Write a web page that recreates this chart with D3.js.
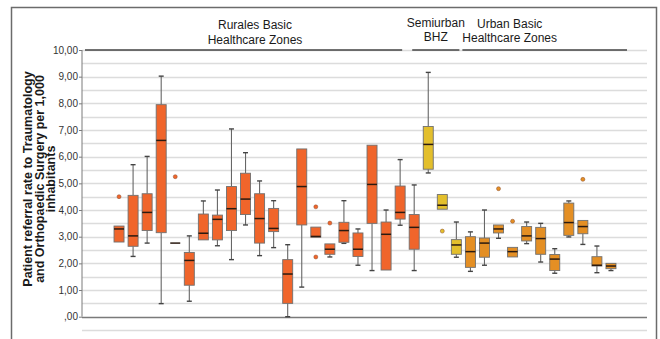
<!DOCTYPE html>
<html><head><meta charset="utf-8">
<script src="https://cdn.jsdelivr.net/npm/d3@7"></script>
<style>
html,body{margin:0;padding:0;background:#fff;}
svg{display:block;}
</style></head>
<body>
<svg id="chart" width="660" height="339"></svg>
<script>
// ---- data ----
const categories = d3.range(1, 37).map(i => "BHZ " + i);
const groups = ["Rural","Rural","Rural","Rural","Rural","Rural","Rural","Rural","Rural","Rural","Rural",
  "Rural","Rural","Rural","Rural","Rural","Rural","Rural","Rural","Rural","Rural","Rural",
  "Semiurban","Semiurban","Semiurban",
  "Urban","Urban","Urban","Urban","Urban","Urban","Urban","Urban","Urban","Urban","Urban"];
const q1 =      [2.80,2.64,3.23,3.15,2.76,1.18,2.88,2.88,3.23,3.83,2.76,3.19,0.50,3.44,2.98,2.34,2.79,2.26,3.50,1.75,3.66,2.53, 5.53,4.03,2.34, 1.85,2.23,3.14,2.24,2.84,2.34,1.73,3.05,3.11,1.90,1.80];
const median =  [3.29,3.03,3.91,6.61,2.76,2.11,3.13,3.65,4.05,4.41,3.68,3.31,1.60,4.88,3.01,2.53,3.23,2.53,4.96,3.09,3.91,3.35, 6.46,4.18,2.69, 2.44,2.76,3.29,2.44,3.03,2.93,2.16,3.53,3.38,1.93,1.90];
const q3 =      [3.40,4.55,4.61,7.95,2.76,2.41,3.85,3.81,4.88,5.38,4.61,4.06,2.14,6.29,3.36,2.73,3.54,3.14,6.43,3.55,4.90,3.83, 7.13,4.58,2.89, 3.00,2.95,3.44,2.60,3.38,3.35,2.33,4.26,3.61,2.25,2.00];
const whiskLo = [2.80,2.26,2.76,0.49,2.76,0.58,2.88,2.66,2.14,3.44,2.29,2.59,0.00,1.11,2.98,2.24,2.75,1.93,1.73,1.75,3.43,1.73, 5.39,4.03,2.23, 1.70,1.93,2.94,2.24,2.74,2.05,1.63,2.99,2.71,1.65,1.73];
const whiskHi = [3.40,5.70,6.01,9.02,2.76,3.03,4.34,4.75,7.04,6.15,5.09,4.35,2.70,6.29,3.36,2.73,4.35,3.29,6.43,4.00,5.89,4.94, 9.16,4.58,3.55, 3.18,4.00,3.44,2.60,3.55,3.50,2.55,4.34,3.61,2.65,2.00];
const outliers = [[4.50],[],[],[],[5.25],[],[],[],[],[],[],[],[],[],[4.12,2.24],[3.51],[],[],[],[],[],[], [],[3.21],[], [],[],[4.80],[3.58],[],[],[],[],[5.15],[],[]];
const yTicks = [0,1,2,3,4,5,6,7,8,9,10];
const yTickLabels = [",00","1,00","2,00","3,00","4,00","5,00","6,00","7,00","8,00","9,00","10,00"];
const groupNames = ["Rural","Semiurban","Urban"];
const groupTitles = [["Rurales Basic","Healthcare Zones"],["Semiurban","BHZ"],["Urban Basic","Healthcare Zones"]];
const groupColors = {Rural:"#F0652B", Semiurban:"#E3BF2C", Urban:"#E48F24"};
const yTitle = ["Patient referral rate to Traumatology","and Orthopaedic Surgery per 1,000","inhabitants"];

// ---- layout ----
const svg = d3.select("#chart");
const axisX = 82, gridRight = 647;
const y = d3.scaleLinear().domain([0, 10]).range([316.7, 50]);
const x = d3.scaleBand().domain(categories).range([112, 618]);
const bw = 10, cap = 5;

// outer frame
svg.append("rect").attr("x", 11.5).attr("y", 7.5).attr("width", 645).attr("height", 340)
  .attr("fill", "none").attr("stroke", "#6b6b6b").attr("stroke-width", 1.5);

// gridlines every 0.5
const grid = d3.range(-0.5, 10.01, 0.5);
svg.append("g").selectAll("line").data(grid).join("line")
  .attr("x1", axisX).attr("x2", gridRight)
  .attr("y1", d => Math.round(y(d)) + 0.5).attr("y2", d => Math.round(y(d)) + 0.5)
  .attr("stroke", d => d === 0 ? "#7a7a7a" : "#dcdcdc")
  .attr("stroke-width", d => d === 0 ? 1.5 : 1.3);

// y axis
const yAxis = d3.axisLeft(y).tickValues(yTicks).tickSize(3)
  .tickFormat(d => yTickLabels[yTicks.indexOf(d)]);
const ga = svg.append("g").attr("transform", `translate(${axisX},0)`).call(yAxis);
ga.select(".domain").attr("stroke", "#7a7a7a").attr("d", `M0,${y(0)}V${y(10)}`);
ga.selectAll(".tick line").attr("stroke", "#7a7a7a");
ga.selectAll(".tick text").attr("font-family", "Liberation Sans, Arial, sans-serif")
  .attr("font-size", 10).attr("fill", "#333").attr("x", -4);

// y title
yTitle.forEach((t, i) => {
  svg.append("text").attr("transform", `translate(${32 + i * 11.5},179) rotate(-90)`)
    .attr("font-family", "Liberation Sans, Arial, sans-serif").attr("font-weight", "bold")
    .attr("font-size", 12.5).attr("fill", "#1a1a1a").attr("text-anchor", "middle").text(t);
});

// group headers
const gIdx = groupNames.map(g => [groups.indexOf(g), groups.lastIndexOf(g)]);
const step = x.step();
const spans = [
  [axisX + 3, x(categories[gIdx[0][1]]) + bw / 2 - 10],
  [x(categories[gIdx[1][0]]) - 9, x(categories[gIdx[1][1]]) + step - 4],
  [x(categories[gIdx[2][0]]) - 1, x(categories[gIdx[2][1]]) + step + 9]
];
const titleY = [[25, 40], [23, 37], [24, 38]];
spans.forEach((s, gi) => {
  svg.append("line").attr("x1", s[0]).attr("x2", s[1]).attr("y1", 50).attr("y2", 50)
    .attr("stroke", "#444").attr("stroke-width", 1.6);
  const cx = gi === 0 ? 255 : (s[0] + s[1]) / 2 + (gi === 2 ? -35 : 0);
  groupTitles[gi].forEach((t, li) => {
    svg.append("text").attr("x", cx).attr("y", titleY[gi][li] + 4)
      .attr("text-anchor", "middle").attr("font-family", "Liberation Sans Narrow, Arial Narrow, sans-serif")
      .attr("font-size", 12).attr("fill", "#1a1a1a").text(t);
  });
});

// boxes
const bx = svg.append("g");
categories.forEach((c, i) => {
  const cx = x(c) + x.bandwidth() / 2;
  const col = groupColors[groups[i]];
  const g = bx.append("g");
  if (whiskHi[i] > q3[i]) {
    g.append("line").attr("x1", cx).attr("x2", cx).attr("y1", y(q3[i])).attr("y2", y(whiskHi[i])).attr("stroke", "#666").attr("stroke-width", 1.1);
    g.append("line").attr("x1", cx - cap / 2).attr("x2", cx + cap / 2).attr("y1", y(whiskHi[i])).attr("y2", y(whiskHi[i])).attr("stroke", "#444").attr("stroke-width", 1.4);
  }
  if (whiskLo[i] < q1[i]) {
    g.append("line").attr("x1", cx).attr("x2", cx).attr("y1", y(q1[i])).attr("y2", y(whiskLo[i])).attr("stroke", "#666").attr("stroke-width", 1.1);
    g.append("line").attr("x1", cx - cap / 2).attr("x2", cx + cap / 2).attr("y1", y(whiskLo[i])).attr("y2", y(whiskLo[i])).attr("stroke", "#444").attr("stroke-width", 1.4);
  }
  g.append("rect").attr("x", cx - bw / 2).attr("width", bw)
    .attr("y", y(q3[i])).attr("height", Math.max(0, y(q1[i]) - y(q3[i])))
    .attr("fill", col).attr("stroke", "#707070").attr("stroke-width", 0.9);
  g.append("line").attr("x1", cx - bw / 2).attr("x2", cx + bw / 2)
    .attr("y1", y(median[i])).attr("y2", y(median[i]))
    .attr("stroke", "#2a1a10").attr("stroke-width", 1.5);
  outliers[i].forEach(v => {
    g.append("circle").attr("cx", cx).attr("cy", y(v)).attr("r", 2)
      .attr("fill", col).attr("stroke", "#8a4a2a").attr("stroke-width", 0.5);
  });
});
</script>
</body></html>
